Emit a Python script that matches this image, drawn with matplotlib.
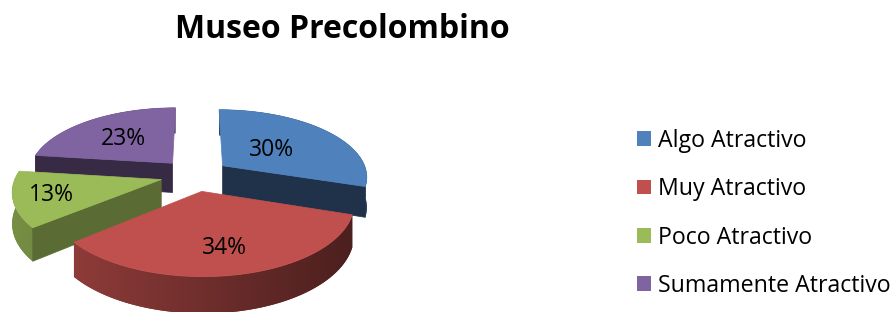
import numpy as np
import matplotlib
matplotlib.use('Agg')
import matplotlib.pyplot as plt
from matplotlib.patches import Polygon, Patch
from matplotlib.colors import to_rgb

plt.rcParams['font.family'] = ['Open Sans', 'DejaVu Sans']

# data
categories = ['Algo Atractivo', 'Muy Atractivo', 'Poco Atractivo', 'Sumamente Atractivo']
shares = [30, 34, 13, 23]
colors = ['#4F81BD', '#C0504D', '#9BBB59', '#8064A2']
title = 'Museo Precolombino'

# 3d look (pixel space)
CX, CY = 195, 175     # pie centre
SX, SY = 145, 67      # horizontal / depth scale
K = 0.15              # perspective
DEPTH = 30            # thickness
EXPLODE = 0.24
label_r = [0.45, 0.7, 0.75, 0.57]


def proj(X, Y, Z):
    w = 1 + K * Y
    return CX + SX * X / w, CY - (SY * Y + DEPTH * Z) / w


def shade(c, f):
    return tuple(min(1, v * f) for v in to_rgb(c))


fig = plt.figure(figsize=(8.95, 3.12), dpi=100)
ax = fig.add_axes([0, 0, 1, 1])

total = sum(shares)
starts = np.cumsum([0] + shares[:-1]) / total * 360
spans = np.array(shares) / total * 360
mids = starts + spans / 2

# back to front
order = sorted(range(len(shares)), key=lambda i: -np.cos(np.radians(mids[i])))
z = 1
for i in order:
    a, b = starts[i], starts[i] + spans[i]
    m = np.radians(mids[i])
    ox, oy = EXPLODE * np.sin(m), EXPLODE * np.cos(m)
    th = np.radians(np.linspace(a, b, max(int(spans[i]), 2) + 1))
    rx, ry = ox + np.sin(th), oy + np.cos(th)
    col = colors[i]

    # outer wall with a left-to-right shading
    top = [proj(x, y, 0) for x, y in zip(rx, ry)]
    bot = [proj(x, y, -1) for x, y in zip(rx, ry)]
    wall = Polygon(top + bot[::-1], closed=True, fc=shade(col, 0.58), ec='none', zorder=z)
    ax.add_patch(wall)
    xs = np.array([p[0] for p in top + bot])
    ys = np.array([p[1] for p in top + bot])
    gx = np.linspace(xs.min(), xs.max(), 200)
    cx0 = proj(ox, oy, 0)[0]
    s = np.clip((gx - cx0) / SX, -1, 1)
    img = np.array([[shade(col, 0.58 - 0.18 * v) for v in s]])
    im = ax.imshow(img, extent=(xs.min(), xs.max(), ys.max(), ys.min()),
                   aspect='auto', interpolation='bilinear', zorder=z + 0.5)
    im.set_clip_path(wall)
    z += 1

    # cut faces
    for ang, sgn in ((np.radians(a), -1), (np.radians(b), 1)):
        nx, ny = sgn * np.cos(ang), -sgn * np.sin(ang)
        if ny < -1e-6:
            ex, ey = ox + np.sin(ang), oy + np.cos(ang)
            pts = [proj(ox, oy, 0), proj(ex, ey, 0), proj(ex, ey, -1), proj(ox, oy, -1)]
            c = shade(col, 0.45 + 0.2 * nx)
            ax.add_patch(Polygon(pts, closed=True, fc=c, ec=c, lw=0.5, zorder=z))
            z += 1

    # top face
    pts = [proj(ox, oy, 0)] + top
    ax.add_patch(Polygon(pts, closed=True, fc=col, ec=col, lw=0.5, zorder=z))
    z += 1

    lr = label_r[i] + EXPLODE
    lx, ly = proj(lr * np.sin(m), lr * np.cos(m), 0)
    ax.text(lx, ly + 1, f'{shares[i]}%', ha='center', va='center', fontsize=16.5,
            color='black', zorder=100)

ax.set_xlim(0, 895)
ax.set_ylim(312, 0)
ax.axis('off')

fig.text(0.383, 0.905, title, ha='center', va='center', fontsize=23, fontweight='bold')

handles = [Patch(facecolor=c, edgecolor='none') for c in colors]
fig.legend(handles, categories, loc='center left', bbox_to_anchor=(0.712, 0.316),
           frameon=False, fontsize=16.7, handlelength=0.6, handleheight=0.6,
           handletextpad=0.3, labelspacing=1.05, borderpad=0, borderaxespad=0)

fig.savefig('out.png', dpi=100)
